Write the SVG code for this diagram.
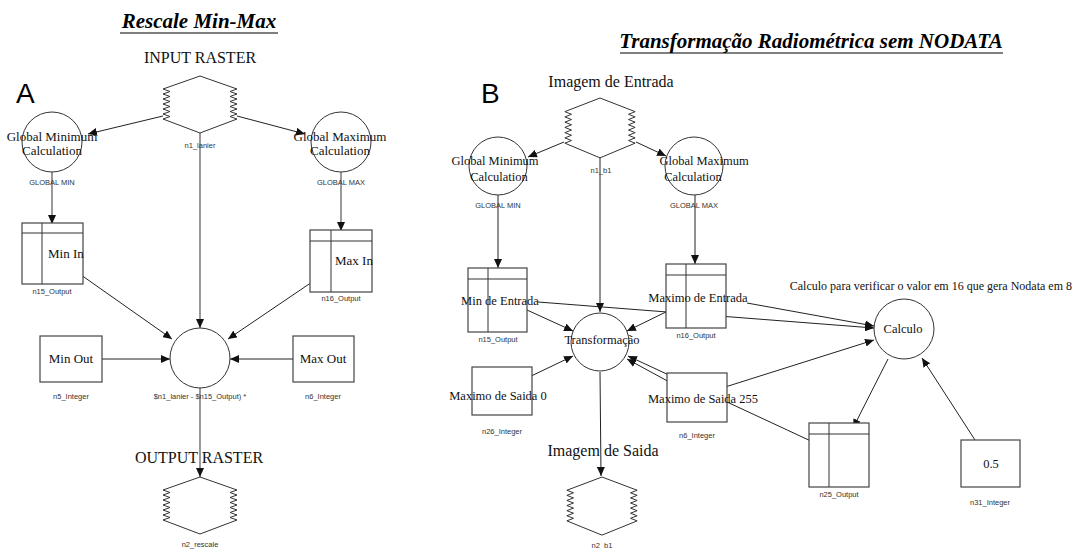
<svg xmlns="http://www.w3.org/2000/svg" xmlns:xlink="http://www.w3.org/1999/xlink" width="1078" height="549" viewBox="0 0 1078 549">
<style>
  .bg{fill:#fff}
  .shape{fill:none;stroke:#333;stroke-width:1}
  .box{fill:#fff;stroke:#444;stroke-width:1.2}
  .circ{fill:none;stroke:#333;stroke-width:1}
  .ln{stroke:#222;stroke-width:1;fill:none;marker-end:url(#arr)}
  .gl{stroke:#808080;stroke-width:1.6;fill:none;marker-end:url(#arr)}
  .title{font-family:"Liberation Serif","Times New Roman",serif;font-weight:bold;font-style:italic;font-size:21px;fill:#000}
  .big{font-family:"Liberation Serif",serif;font-size:16px;fill:#111}
  .t13{font-family:"Liberation Serif",serif;font-size:13px;fill:#111}
  .t12{font-family:"Liberation Serif",serif;font-size:12.5px;fill:#111}
  .note{font-family:"Liberation Serif",serif;font-size:12px;fill:#111}
  .lbl{font-family:"Liberation Sans",sans-serif;font-size:7.5px;fill:#333}
  .letter{font-family:"Liberation Sans",sans-serif;font-size:28px;fill:#000}
  .m{text-anchor:middle}
</style>
<defs>
  <marker id="arr" markerUnits="userSpaceOnUse" markerWidth="10" markerHeight="8" refX="9" refY="4" orient="auto">
    <path d="M0,0 L9,4 L0,8 Z" fill="#111"/>
  </marker>
  <path id="hex" d="M0,0 L-37,13 L-30,15.5 L-37,18 L-30,20.5 L-37,23 L-30,25.5 L-37,28 L-30,30.5 L-37,33 L-30,35.5 L-37,38 L-30,40.5 L-37,43 L0,57 L37,43 L30,40.5 L37,38 L30,35.5 L37,33 L30,30.5 L37,28 L30,25.5 L37,23 L30,20.5 L37,18 L30,15.5 L37,13 Z" fill="none" stroke="#333" stroke-width="1" vector-effect="non-scaling-stroke"/>
</defs>
<rect class="bg" x="0" y="0" width="1078" height="549"/>

<!-- Titles -->
<g id="titleA">
  <text class="title m" x="199" y="28">Rescale Min-Max</text>
  <line x1="120" y1="33" x2="278" y2="33" stroke="#000" stroke-width="1.2"/>
</g>
<g id="titleB">
  <text class="title m" x="811" y="48">Transforma&#231;&#227;o Radiom&#233;trica sem NODATA</text>
  <line x1="620" y1="53" x2="1003" y2="53" stroke="#000" stroke-width="1.2"/>
</g>
<text class="letter" x="16" y="103">A</text>
<text class="letter" x="481" y="103">B</text>

<!-- Connectors -->
<g id="connectors">
  <line class="ln" x1="163" y1="116" x2="88" y2="134"/>
  <line class="ln" x1="237" y1="116" x2="305" y2="134"/>
  <line class="gl" x1="52" y1="172" x2="52" y2="224"/>
  <line class="gl" x1="341" y1="172" x2="341" y2="231"/>
  <line class="gl" x1="200" y1="133" x2="200" y2="328"/>
  <line class="ln" x1="74" y1="270" x2="172" y2="339"/>
  <line class="ln" x1="318" y1="278" x2="228" y2="339"/>
  <line class="ln" x1="102" y1="359" x2="170" y2="359"/>
  <line class="ln" x1="293" y1="359" x2="230" y2="359"/>
  <line class="gl" x1="200" y1="388" x2="200" y2="477"/>

  <line class="ln" x1="564" y1="142" x2="528" y2="157"/>
  <line class="ln" x1="636" y1="142" x2="666" y2="156"/>
  <line class="ln" x1="498" y1="195" x2="498" y2="268"/>
  <line class="ln" x1="695" y1="195" x2="695" y2="264"/>
  <line class="ln" x1="600" y1="158" x2="600" y2="312"/>
  <line class="ln" x1="527" y1="310" x2="573" y2="331"/>
  <line class="ln" x1="672" y1="309" x2="627" y2="331"/>
  <line class="ln" x1="527" y1="378" x2="573" y2="356"/>
  <line class="ln" x1="673" y1="384" x2="627" y2="359"/>
  <line class="ln" x1="813" y1="442" x2="628" y2="356"/>
  <line class="ln" x1="538" y1="302" x2="874" y2="328"/>
  <line class="ln" x1="747" y1="303" x2="874" y2="326"/>
  <line class="ln" x1="722" y1="388" x2="874" y2="340"/>
  <line class="ln" x1="888" y1="359" x2="853" y2="428"/>
  <line class="ln" x1="975" y1="440" x2="922" y2="358"/>
  <line class="ln" x1="600" y1="372" x2="601" y2="476"/>
</g>

<!-- Part A nodes -->
<g id="n1_lanier">
  <text class="big m" x="200" y="63">INPUT RASTER</text>
  <use xlink:href="#hex" href="#hex" transform="translate(200,76)"/>
  <text class="lbl m" x="200" y="148">n1_lanier</text>
</g>
<g id="globalMinA">
  <circle class="circ" cx="52" cy="142" r="30"/>
  <text class="t13 m" x="52" y="141">Global Minimum</text>
  <text class="t13 m" x="52" y="155">Calculation</text>
  <text class="lbl m" x="52" y="185">GLOBAL MIN</text>
</g>
<g id="globalMaxA">
  <circle class="circ" cx="341" cy="142" r="30"/>
  <text class="t13 m" x="340" y="141">Global Maximum</text>
  <text class="t13 m" x="340" y="155">Calculation</text>
  <text class="lbl m" x="341" y="185">GLOBAL MAX</text>
</g>
<g id="n15_OutputA">
  <rect class="box" x="22" y="223" width="61" height="61"/>
  <line class="shape" x1="22" y1="233" x2="83" y2="233"/>
  <line class="shape" x1="42" y1="223" x2="42" y2="284"/>
  <text class="t13" x="48" y="258">Min In</text>
  <text class="lbl m" x="52" y="294">n15_Output</text>
</g>
<g id="n16_OutputA">
  <rect class="box" x="310" y="230" width="62" height="62"/>
  <line class="shape" x1="310" y1="241" x2="372" y2="241"/>
  <line class="shape" x1="331" y1="230" x2="331" y2="292"/>
  <text class="t13" x="335" y="265">Max In</text>
  <text class="lbl m" x="341" y="301">n16_Output</text>
</g>
<g id="calcA">
  <circle class="circ" cx="200" cy="358" r="30"/>
  <text class="lbl m" x="200" y="399">$n1_lanier - $n15_Output) *</text>
</g>
<g id="n5_Integer">
  <rect class="box" x="40" y="336" width="62" height="46"/>
  <text class="t13 m" x="71" y="363">Min Out</text>
  <text class="lbl m" x="71" y="399">n5_Integer</text>
</g>
<g id="n6_IntegerA">
  <rect class="box" x="293" y="336" width="61" height="46"/>
  <text class="t13 m" x="323" y="363">Max Out</text>
  <text class="lbl m" x="323" y="399">n6_Integer</text>
</g>
<g id="n2_rescale">
  <use xlink:href="#hex" href="#hex" transform="translate(200,477)"/>
  <text class="big m" x="199" y="463">OUTPUT RASTER</text>
  <text class="lbl m" x="200" y="547">n2_rescale</text>
</g>

<!-- Part B nodes -->
<g id="n1_b1">
  <text class="big m" x="611" y="87">Imagem de Entrada</text>
  <use xlink:href="#hex" href="#hex" transform="translate(600,98) scale(0.95,1.05)"/>
  <text class="lbl m" x="601" y="173">n1_b1</text>
</g>
<g id="globalMinB">
  <circle class="circ" cx="498" cy="166" r="29"/>
  <text class="t12 m" x="495" y="165">Global Minimum</text>
  <text class="t12 m" x="499" y="181">Calculation</text>
  <text class="lbl m" x="498" y="208">GLOBAL MIN</text>
</g>
<g id="globalMaxB">
  <circle class="circ" cx="694" cy="166" r="29"/>
  <text class="t12 m" x="704" y="165">Global Maximum</text>
  <text class="t12 m" x="693" y="181">Calculation</text>
  <text class="lbl m" x="694" y="208">GLOBAL MAX</text>
</g>
<g id="n15_OutputB">
  <rect class="box" x="468" y="268" width="59" height="64"/>
  <line class="shape" x1="468" y1="279" x2="527" y2="279"/>
  <line class="shape" x1="488" y1="268" x2="488" y2="332"/>
  <text class="t12 m" x="500" y="305">Min de Entrada</text>
  <text class="lbl m" x="498" y="342">n15_Output</text>
</g>
<g id="n16_OutputB">
  <rect class="box" x="666" y="264" width="60" height="64"/>
  <line class="shape" x1="666" y1="275" x2="726" y2="275"/>
  <line class="shape" x1="686" y1="264" x2="686" y2="328"/>
  <text class="t12 m" x="698" y="302">Maximo de Entrada</text>
  <text class="lbl m" x="696" y="338">n16_Output</text>
</g>
<g id="transformacao">
  <circle class="circ" cx="600" cy="342" r="29"/>
  <text class="t12 m" x="602" y="344">Transforma&#231;&#227;o</text>
</g>
<g id="n26_Integer">
  <rect class="box" x="472" y="367" width="60" height="48"/>
  <text class="t12 m" x="498" y="400">Maximo de Saida 0</text>
  <text class="lbl m" x="502" y="434">n26_Integer</text>
</g>
<g id="n6_IntegerB">
  <rect class="box" x="667" y="373" width="60" height="49"/>
  <text class="t12 m" x="703" y="403">Maximo de Saida 255</text>
  <text class="lbl m" x="697" y="438">n6_Integer</text>
</g>
<g id="n2_b1">
  <text class="big m" x="603" y="456">Imagem de Saida</text>
  <use xlink:href="#hex" href="#hex" transform="translate(602,477) scale(0.95,1.02)"/>
  <text class="lbl m" x="602" y="548">n2_b1</text>
</g>
<g id="calculo">
  <circle class="circ" cx="904" cy="329" r="30"/>
  <text class="t12 m" x="903" y="333">Calculo</text>
  <text class="note" x="1072" y="290" text-anchor="end">Calculo para verificar o valor em 16 que gera Nodata em 8</text>
</g>
<g id="n25_Output">
  <rect class="box" x="809" y="423" width="60" height="64"/>
  <line class="shape" x1="809" y1="434" x2="869" y2="434"/>
  <line class="shape" x1="829" y1="423" x2="829" y2="487"/>
  <text class="lbl m" x="839" y="497">n25_Output</text>
</g>
<g id="n31_Integer">
  <rect class="box" x="961" y="440" width="59" height="47"/>
  <text class="t12 m" x="991" y="468">0.5</text>
  <text class="lbl m" x="990" y="505">n31_Integer</text>
</g>
</svg>
